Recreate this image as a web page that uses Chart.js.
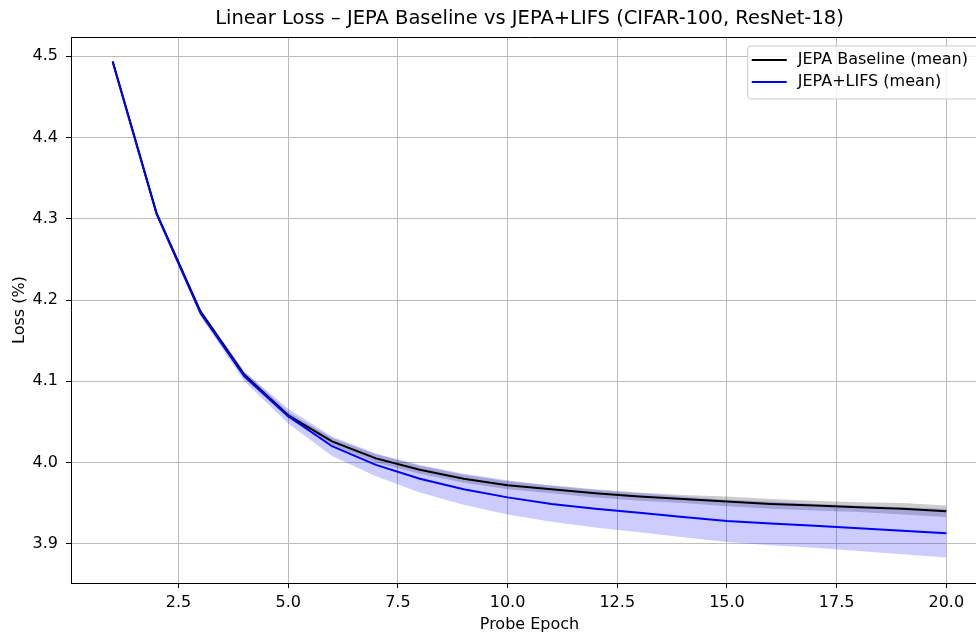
<!DOCTYPE html>
<html>
<head>
<meta charset="utf-8">
<script src="https://cdn.jsdelivr.net/npm/chart.js@4.4.0/dist/chart.umd.min.js"></script>
<style>
html, body { margin: 0; padding: 0; overflow: hidden; background: #fff; }
</style>
</head>
<body>
<canvas id="lossChart" width="990" height="634"></canvas>
<script>
// data
var epochs = [1, 2, 3, 4, 5, 6, 7, 8, 9, 10, 11, 12, 13, 14, 15, 16, 17, 18, 19, 20];
var baselineMean = [4.494, 4.307, 4.186, 4.108, 4.058, 4.026, 4.005, 3.991, 3.980, 3.972,
                    3.967, 3.962, 3.958, 3.955, 3.952, 3.949, 3.947, 3.945, 3.943, 3.940];
var baselineStd = [0.001, 0.002, 0.003, 0.004, 0.004, 0.004, 0.005, 0.005, 0.005, 0.005,
                   0.005, 0.005, 0.005, 0.005, 0.006, 0.006, 0.006, 0.006, 0.007, 0.007];
var lifsMean = [4.493, 4.306, 4.184, 4.106, 4.057, 4.020, 3.997, 3.980, 3.967, 3.957,
                3.949, 3.943, 3.938, 3.933, 3.928, 3.925, 3.922, 3.919, 3.916, 3.913];
var lifsStd = [0.001, 0.003, 0.004, 0.006, 0.009, 0.012, 0.014, 0.017, 0.019, 0.021,
               0.022, 0.023, 0.024, 0.025, 0.026, 0.027, 0.027, 0.028, 0.029, 0.030];
var seriesNames = ['JEPA Baseline (mean)', 'JEPA+LIFS (mean)'];
var chartTitle = 'Linear Loss \u2013 JEPA Baseline vs JEPA+LIFS (CIFAR-100, ResNet-18)';
var xTicks = [2.5, 5, 7.5, 10, 12.5, 15, 17.5, 20];
var yTicks = [3.9, 4.0, 4.1, 4.2, 4.3, 4.4, 4.5];

var FONT = '"DejaVu Sans", sans-serif';

function pts(vals, off, sign) {
    return epochs.map(function (e, i) {
        return { x: e, y: vals[i] + sign * (off ? off[i] : 0) };
    });
}

// box around the axes (top + right spines) and title centred over the axes
var frame = {
    id: 'frame',
    afterDraw: function (chart) {
        var a = chart.chartArea, ctx = chart.ctx;
        ctx.save();
        ctx.strokeStyle = '#000';
        ctx.lineWidth = 1;
        ctx.beginPath();
        ctx.moveTo(a.left, a.top + 0.5);
        ctx.lineTo(a.right, a.top + 0.5);
        ctx.lineTo(a.right, a.bottom);
        ctx.stroke();
        ctx.font = '19.5px ' + FONT;
        ctx.fillStyle = '#000';
        ctx.textAlign = 'center';
        ctx.textBaseline = 'middle';
        ctx.fillText(chartTitle, (a.left + a.right) / 2, a.top - 18);
        ctx.restore();
    }
};

// matplotlib-like legend in upper right
var legendBox = {
    id: 'legendBox',
    afterDraw: function (chart) {
        var a = chart.chartArea, ctx = chart.ctx;
        var colors = ['#000000', '#0000ff'];
        ctx.save();
        ctx.font = '16px ' + FONT;
        var textW = Math.max.apply(null, seriesNames.map(function (s) { return ctx.measureText(s).width; }));
        var w = 4 + 35 + 11 + textW + 13;
        var h = 53;
        var x = a.right - 7 - w, y = a.top + 9;
        ctx.beginPath();
        ctx.roundRect(x, y, w, h, 3);
        ctx.fillStyle = 'rgba(255,255,255,0.8)';
        ctx.fill();
        ctx.strokeStyle = '#cccccc';
        ctx.lineWidth = 1;
        ctx.stroke();
        seriesNames.forEach(function (name, i) {
            var cy = y + 14 + i * 22;
            ctx.strokeStyle = colors[i];
            ctx.lineWidth = 2;
            ctx.beginPath();
            ctx.moveTo(x + 4, cy);
            ctx.lineTo(x + 39, cy);
            ctx.stroke();
            ctx.fillStyle = '#000';
            ctx.textBaseline = 'middle';
            ctx.fillText(name, x + 50, cy);
        });
        ctx.restore();
    }
};

var ctx = document.getElementById('lossChart').getContext('2d');
var lossChart = new Chart(ctx, {
    type: 'line',
    data: {
        datasets: [{
            label: 'baseline upper',
            data: pts(baselineMean, baselineStd, 1),
            borderWidth: 0, pointRadius: 0, fill: false, order: 5
        }, {
            label: 'baseline lower',
            data: pts(baselineMean, baselineStd, -1),
            borderWidth: 0, pointRadius: 0, fill: '-1',
            backgroundColor: 'rgba(0,0,0,0.2)', order: 4
        }, {
            label: 'lifs upper',
            data: pts(lifsMean, lifsStd, 1),
            borderWidth: 0, pointRadius: 0, fill: false, order: 3
        }, {
            label: 'lifs lower',
            data: pts(lifsMean, lifsStd, -1),
            borderWidth: 0, pointRadius: 0, fill: '-1',
            backgroundColor: 'rgba(0,0,255,0.2)', order: 2
        }, {
            label: seriesNames[0],
            data: pts(baselineMean, null, 0),
            borderColor: '#000000', borderWidth: 2, pointRadius: 0, fill: false, order: 1
        }, {
            label: seriesNames[1],
            data: pts(lifsMean, null, 0),
            borderColor: '#0000ff', borderWidth: 2, pointRadius: 0, fill: false, order: 0
        }]
    },
    options: {
        responsive: false,
        animation: false,
        events: [],
        layout: { padding: { left: 0, right: 2, top: 37, bottom: 0 } },
        plugins: {
            legend: { display: false },
            tooltip: { enabled: false },
            title: { display: false }
        },
        scales: {
            x: {
                type: 'linear',
                min: 0.05,
                max: 20.95,
                afterBuildTicks: function (s) { s.ticks = xTicks.map(function (v) { return { value: v }; }); },
                afterFit: function (s) { s.height = 51; },
                ticks: {
                    autoSkip: false, maxRotation: 0, padding: 5, color: '#000',
                    font: { family: FONT, size: 16 },
                    callback: function (v) { return Number(v).toFixed(1); }
                },
                grid: { color: '#bcbcbc', lineWidth: 1, tickColor: '#000', tickLength: 5 },
                border: { display: true, color: '#000', width: 1 },
                title: {
                    display: true, text: 'Probe Epoch', color: '#000',
                    font: { family: FONT, size: 16 },
                    padding: { top: 0, bottom: 0 }
                }
            },
            y: {
                min: 3.8516,
                max: 4.5238,
                afterBuildTicks: function (s) { s.ticks = yTicks.map(function (v) { return { value: v }; }); },
                afterFit: function (s) { s.width = 71; },
                ticks: {
                    autoSkip: false, padding: 8, color: '#000',
                    font: { family: FONT, size: 16 },
                    callback: function (v) { return Number(v).toFixed(1); }
                },
                grid: { color: '#bcbcbc', lineWidth: 1, tickColor: '#000', tickLength: 5 },
                border: { display: true, color: '#000', width: 1 },
                title: {
                    display: true, text: 'Loss (%)', color: '#000',
                    font: { family: FONT, size: 16 },
                    padding: { top: 10, bottom: 0 }
                }
            }
        }
    },
    plugins: [frame, legendBox]
});
</script>
</body>
</html>
